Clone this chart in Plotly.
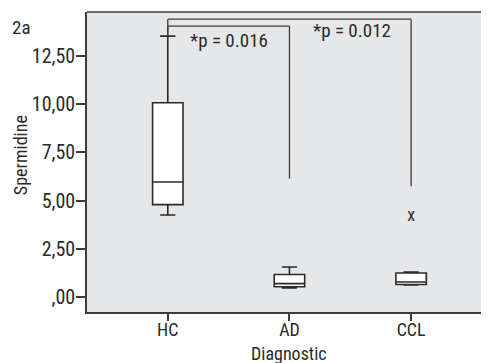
import plotly.graph_objects as go

categories = ["HC", "AD", "CCL"]
lower_whisker = [4.26, 0.48, 0.64]
q1 = [4.80, 0.55, 0.66]
median = [5.97, 0.71, 0.79]
q3 = [10.07, 1.18, 1.26]
upper_whisker = [13.52, 1.57, 1.31]
outlier_cat = ["CCL"]
outlier_val = [4.2]

y_tickvals = [0, 2.5, 5, 7.5, 10, 12.5]
y_ticktext = [",00", "2,50", "5,00", "7,50", "10,00", "12,50"]

# significance brackets: (from, to, bracket level, end value at target, label, label x, label y)
brackets = [
    ("HC", "AD", 14.04, 6.15, "*p = 0.016", 0.505, 13.3),
    ("HC", "CCL", 14.40, 5.75, "*p = 0.012", 1.517, 13.83),
]

FONT = "Roboto Condensed, DejaVu Sans Condensed, Liberation Sans Narrow, sans-serif"
INK = "#2a2a2a"
LINE = "#3c3c3c"
idx = {c: i for i, c in enumerate(categories)}

fig = go.Figure()
for i, c in enumerate(categories):
    fig.add_trace(go.Box(
        x=[i], q1=[q1[i]], median=[median[i]], q3=[q3[i]],
        lowerfence=[lower_whisker[i]], upperfence=[upper_whisker[i]],
        width=0.25, whiskerwidth=0.5,
        fillcolor="white", line=dict(color=INK, width=1.6),
        boxpoints=False, showlegend=False, hoverinfo="skip",
    ))

fig.add_trace(go.Scatter(
    x=[idx[c] for c in outlier_cat], y=outlier_val, mode="text", text=["x"],
    textfont=dict(family=FONT, size=18, color=INK),
    showlegend=False, hoverinfo="skip",
))

for a, b, lvl, endv, lab, lx, ly in brackets:
    xa, xb = idx[a], idx[b]
    for x0, x1, y0, y1 in [(xa, xa, upper_whisker[xa], lvl), (xa, xb, lvl, lvl), (xb, xb, lvl, endv)]:
        fig.add_shape(type="line", x0=x0, x1=x1, y0=y0, y1=y1,
                      xref="x", yref="y", line=dict(color=LINE, width=1.3))
    fig.add_annotation(x=lx, y=ly, xref="x", yref="y", text=lab, showarrow=False,
                       font=dict(family=FONT, size=19, color=INK))

fig.add_annotation(x=0, y=1, xref="paper", yref="paper", text="2a", showarrow=False,
                   xanchor="left", yanchor="middle", xshift=-77, yshift=-15,
                   font=dict(family=FONT, size=19, color=INK))
fig.add_annotation(x=0, y=7.36, xref="paper", yref="y", text="Spermidine", showarrow=False,
                   textangle=-90, xanchor="center", yanchor="middle", xshift=-67,
                   font=dict(family=FONT, size=18, color=INK))
fig.add_annotation(x=1, y=0, xref="x", yref="paper", text="Diagnostic", showarrow=False,
                   xanchor="center", yanchor="middle", yshift=-41,
                   font=dict(family=FONT, size=18, color=INK))

# top border
fig.add_shape(type="line", xref="paper", yref="paper", x0=0, x1=1, y0=1, y1=1,
              line=dict(color=LINE, width=1.5))

fig.update_layout(
    width=481, height=355,
    margin=dict(l=79, r=0, t=4, b=51),
    paper_bgcolor="white", plot_bgcolor="#e6e7e9",
    font=dict(family=FONT, size=19, color=INK),
    xaxis=dict(range=[-0.664, 2.64], tickvals=[0, 1, 2], ticktext=categories,
               tickfont=dict(size=18), ticklabelstandoff=-6,
               showgrid=False, zeroline=False, showline=True, linecolor=LINE, linewidth=1.5,
               ticks="outside", ticklen=7, tickcolor=LINE, tickwidth=1.5),
    yaxis=dict(range=[-0.76, 14.77], tickvals=y_tickvals, ticktext=y_ticktext,
               tickfont=dict(size=20), ticklabelstandoff=-3,
               showgrid=False, zeroline=False, showline=True, linecolor=LINE, linewidth=1.5,
               ticks="outside", ticklen=9, tickcolor=LINE, tickwidth=1.5),
)

fig.write_html("out.html")
